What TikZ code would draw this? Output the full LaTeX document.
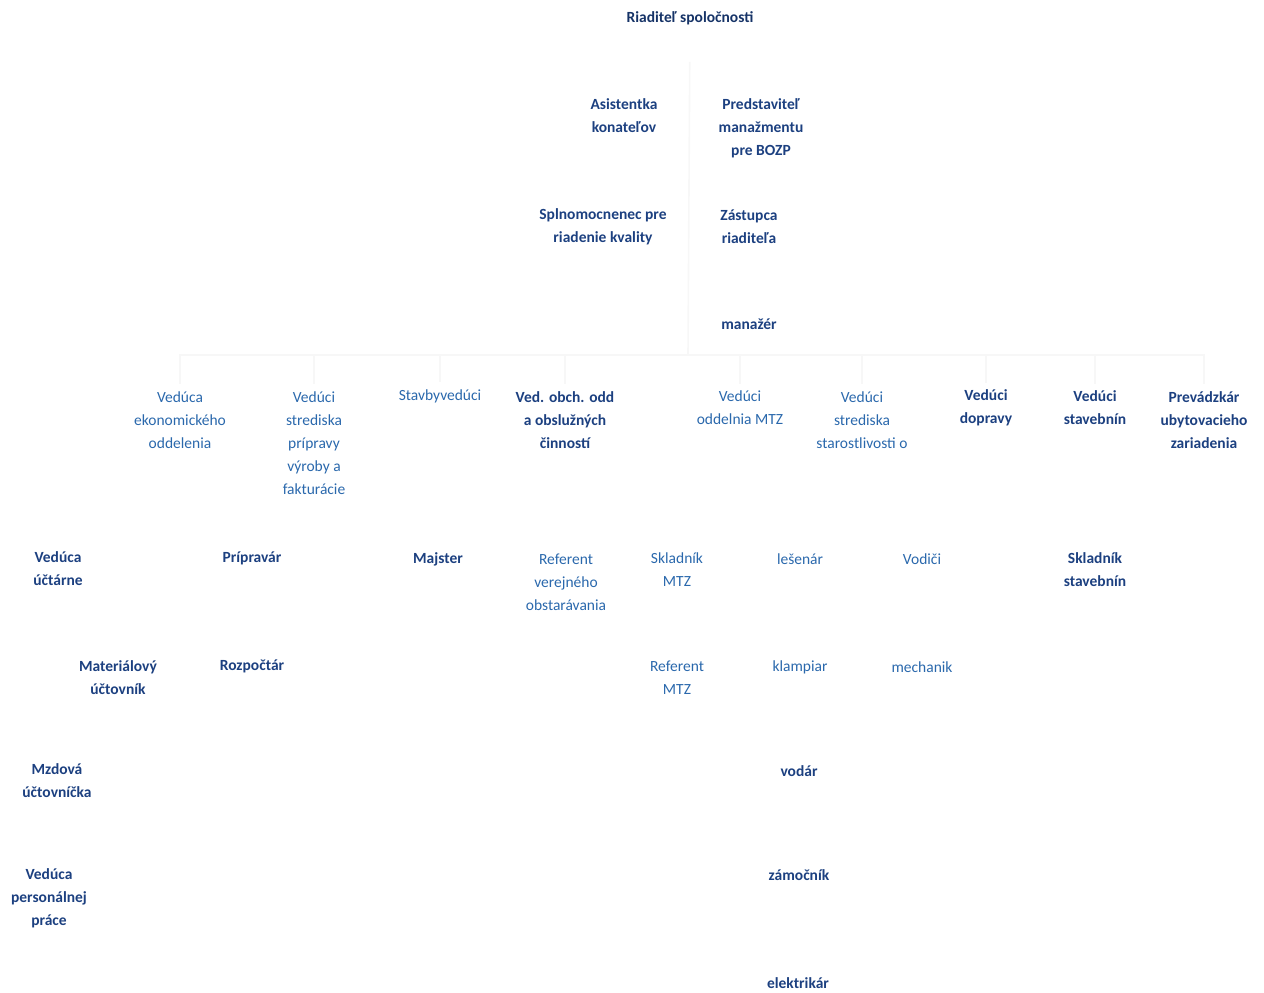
\documentclass[tikz,border=0pt]{standalone}
\usepackage{fontspec}
\setmainfont{Carlito}
\definecolor{navy}{RGB}{28,64,128}
\definecolor{midblue}{RGB}{42,104,172}
\begin{document}
\begin{tikzpicture}[x=1pt,y=-1pt,
  dk/.style={font=\fontsize{15.5}{23}\selectfont\bfseries,text=navy,align=center,inner sep=1pt},
  lt/.style={font=\fontsize{15.5}{23}\selectfont,text=midblue,align=center,inner sep=1pt},
  link/.style={draw=black!3,line width=1.6pt}]
\useasboundingbox (0,0) rectangle (1264,993);
% vedenie
\node[dk,text=navy!80!black] (boss) at (690,18) {Riaditeľ spoločnosti};
\node[dk] (asist) at (624,116) {Asistentka\\konateľov};
\node[dk] (bozp) at (761,128) {Predstaviteľ\\manažmentu\\pre BOZP};
\node[dk] (kval) at (603,227) {Splnomocnenec pre\\riadenie kvality};
\node[dk] (zast) at (749,227) {Zástupca\\riaditeľa};
\node[dk] (manazer) at (749,324) {manažér};
\coordinate (hub) at (688,355);
\draw[link,shorten <=36pt] (boss) -- (hub);
% useky
\node[lt] (ekon) at (180,420) {Vedúca\\ekonomického\\oddelenia};
\node[lt] (strp) at (314,443) {Vedúci\\strediska\\prípravy\\výroby a\\fakturácie};
\node[lt] (stavb) at (440,396) {Stavbyvedúci};
\node[dk] (obch) at (565,420) {Ved. obch. odd\\a obslužných\\činností};
\node[lt] (mtz) at (740,408) {Vedúci\\oddelnia MTZ};
\node[lt] (ssm) at (862,420) {Vedúci\\strediska\\starostlivosti o};
\node[dk] (dopr) at (986,408) {Vedúci\\dopravy};
\node[dk] (stavn) at (1095,408) {Vedúci\\stavebnín};
\node[dk] (ubyt) at (1204,420) {Prevádzkár\\ubytovacieho\\zariadenia};
\foreach \d in {ekon,strp,stavb,obch,mtz,ssm,dopr,stavn,ubyt}
  \draw[link] (hub) -| ([yshift=6pt]\d.north);
% pracovnici
\node[dk] (uct) at (58,569) {Vedúca\\účtárne};
\node[dk] (prip) at (252,558) {Prípravár};
\node[dk] (majst) at (438,559) {Majster};
\node[lt] (refvo) at (566,582) {Referent\\verejného\\obstarávania};
\node[lt] (sklmtz) at (677,570) {Skladník\\MTZ};
\node[lt] (les) at (800,559) {lešenár};
\node[lt] (vod) at (922,559) {Vodiči};
\node[dk] (sklst) at (1095,570) {Skladník\\stavebnín};
\node[dk] (matuc) at (118,678) {Materiálový\\účtovník};
\node[dk] (rozp) at (252,666) {Rozpočtár};
\node[lt] (refmtz) at (677,678) {Referent\\MTZ};
\node[lt] (klamp) at (800,667) {klampiar};
\node[lt] (mech) at (922,667) {mechanik};
\node[dk] (mzd) at (57,781) {Mzdová\\účtovníčka};
\node[dk] (vodar) at (799,771) {vodár};
\node[dk] (pers) at (49,898) {Vedúca\\personálnej\\práce};
\node[dk] (zamoc) at (799,875) {zámočník};
\node[dk] (elek) at (798,983) {elektrikár};
\end{tikzpicture}
\end{document}
